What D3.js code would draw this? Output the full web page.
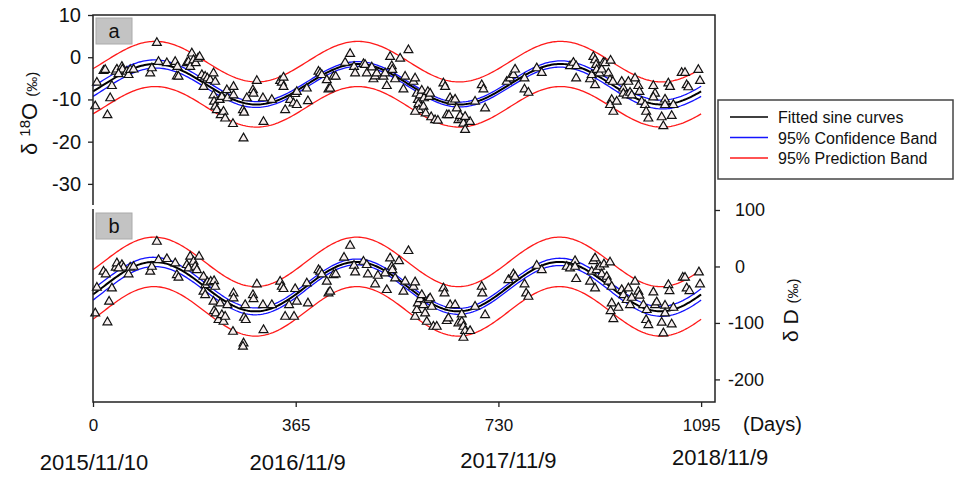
<!DOCTYPE html>
<html><head><meta charset="utf-8">
<script src="https://cdn.jsdelivr.net/npm/d3@7/dist/d3.min.js"></script>
<style>body{margin:0;background:#fff}svg{display:block;font-family:"Liberation Sans",Arial,sans-serif}</style>
</head><body><svg id="c" width="954" height="477"></svg>
<script>
// ---- data ----
const dayO18 = [115,4,7,19,22,26,31,34,41,43,52,53,46,61,64,67,73,103,106,118,133,148,151,154,152,169,172,175,178,181,185,189,192,196,199,202,206,211,217,220,217,218,220,223,228,230,232,235,238,241,242,252,253,253,271,270,272,277,288,289,295,307,306,322,337,340,343,343,346,355,361,364,367,367,387,385,406,409,412,421,424,427,433,437,454,463,470,472,487,490,493,505,508,511,502,523,526,529,535,538,539,544,553,568,559,562,577,580,583,585,586,587,589,592,595,596,599,603,605,607,580,609,616,621,631,634,637,641,643,646,652,655,658,664,661,667,670,679,670,688,700,703,706,745,751,757,760,777,777,784,799,808,859,865,870,870,895,898,901,904,906,907,912,916,919,922,904,928,931,936,932,934,931,937,943,952,955,955,964,961,967,970,976,982,984,988,994,996,1000,1009,1012,1009,1024,1027,1030,1030,1036,1039,1042,1045,1060,1066,1069,1072,1090,1093];
const valO18 = [3.4,-11.6,-6.0,-3.2,-3.0,-13.7,-9.7,-6.8,-3.4,-2.9,-2.25,-2.9,-4.0,-3.4,-4.2,-3.0,-2.9,-3.8,-2.6,-1.1,-1.4,-1.1,-4.5,-4.6,-2.25,-1.4,-1.1,-2.25,0.9,-0.7,-1.4,-0.3,0.1,-4.2,-7.0,-4.6,-5.0,-5.4,-3.8,-5.8,-9.0,-10.5,-11.7,-12.5,-10.1,-13.7,-9.4,-12.9,-14.5,-7.8,-9.7,-15.8,-7.0,-9.0,-19.2,-12.5,-13.1,-9.7,-7.8,-8.6,-5.6,-15.3,-9.7,-10.1,-5.6,-6.0,-4.8,-7.0,-12.5,-10.1,-10.9,-8.7,-8.2,-11.3,-10.4,-7.4,-3.4,-3.8,-4.2,-5.4,-7.6,-7.4,-4.6,-4.6,-1.3,0.8,-2.25,-3.8,-1.6,-1.8,-3.8,-5.2,-4.5,-3.8,-2.4,-4.6,-3.8,-6.8,0.1,-2.1,-3.0,-5.2,-0.3,1.7,-7.6,-4.6,-5.8,-5.0,-8.6,-10.1,-11.1,-12.5,-9.0,-7.9,-11.7,-9.7,-13.3,-8.2,-9.4,-8.6,-12.9,-14.2,-14.9,-15.0,-6.2,-7.0,-13.7,-13.7,-9.7,-10.5,-10.0,-12.1,-14.9,-14.5,-13.9,-15.7,-17.2,-15.3,-14.1,-10.5,-6.6,-7.6,-12.1,-5.8,-5.0,-4.2,-2.9,-5.0,-7.6,-8.4,-2.6,-3.7,-2.1,-1.3,-2.1,-5.0,-5.2,-4.2,0.1,-0.7,-1.8,-3.0,-3.8,-2.9,-1.3,-1.4,-6.6,-3.8,-5.4,-5.8,-0.8,-10.1,-11.3,-12.9,-10.5,-5.8,-7.4,-8.6,-5.8,-9.0,-8.4,-9.0,-5.0,-6.8,-8.2,-10.5,-11.3,-12.9,-14.5,-6.8,-8.6,-9.5,-14.2,-16.3,-10.0,-11.3,-6.2,-7.0,-13.9,-11.3,-3.7,-3.7,-6.6,-7.1,-3.0,-5.6];
const dayD = [115,4,7,19,23,26,29,34,41,43,52,55,46,64,67,73,103,106,118,133,148,151,154,169,172,175,181,184,187,191,199,202,206,212,218,220,199,202,217,218,221,226,229,232,235,238,242,253,253,252,271,270,274,272,275,288,289,295,307,306,322,337,340,343,346,353,362,364,367,387,385,406,409,412,421,424,427,433,437,452,463,470,472,487,493,495,508,513,529,526,535,538,539,544,551,568,559,562,577,580,580,583,585,589,592,595,598,601,604,607,610,613,619,631,633,637,640,643,652,658,664,667,670,679,664,667,688,700,701,706,748,757,760,777,780,784,799,808,853,859,868,868,870,895,898,901,904,907,913,916,920,931,904,925,928,934,934,932,937,946,952,955,964,961,967,970,976,982,984,991,997,996,1000,1009,1012,1015,1024,1027,1030,1030,1036,1038,1042,1045,1062,1066,1069,1074,1091,1093];
const valD = [43.9,-82.9,-37.5,-9.2,-13.8,-98.8,-62.3,-38.6,-2.1,5.7,2.7,-2.1,-3.2,-13.8,-2.1,-0.4,-9.2,-0.4,11.5,13.3,5.7,-15.1,-19.8,2.7,-3.2,17.4,8.5,-0.4,-6.2,17.4,-18.1,-32.8,-28.0,-26.9,-25.7,-35.8,-44.6,-50.5,-62.3,-78.8,-82.9,-94.7,-65.2,-85.9,-97.8,-88.9,-68.2,-47.5,-56.3,-115.5,-136,-142,-68.2,-90.7,-94.7,-50.5,-57.6,-31.5,-112.5,-68.2,-68.2,-26.9,-35.8,-39.8,-88.9,-68.2,-88.9,-39.8,-62.3,-65.2,-29.8,-6.2,-9.2,-13.8,-26.9,-47.5,-44.6,-15.1,-13.8,15.6,36.8,1.4,-10.3,8.5,2.7,-13.8,-31.5,-16.3,-41.6,-12.0,14.5,-0.4,-6.2,-20.9,9.7,27.5,-44.6,-26.9,-35.8,-28.0,-88.9,-77.0,-65.2,-57.6,-50.5,-68.2,-82.9,-97.8,-59.3,-56.3,-71.2,-106.6,-106.6,-38.6,-47.5,-96.5,-91.7,-68.2,-68.2,-100.6,-97.8,-106.6,-114.2,-114.2,-84.7,-126.1,-71.2,-35.8,-47.5,-85.9,-23.9,-13.8,-18.1,-31.5,-47.5,-53.5,1.4,-6.2,-0.4,-3.2,9.7,-0.4,-22.1,-26.9,-9.2,9.7,14.5,-6.2,-0.4,-13.8,3.9,7.4,-38.6,-18.1,-26.9,-35.8,-65.2,-78.8,-93.0,-73.0,-41.6,-50.5,-38.6,-59.3,-68.2,-55.3,-26.9,-44.6,-51.7,-68.2,-77.0,-94.7,-103.6,-45.7,-68.2,-63.4,-99.5,-118.3,-69.4,-82.9,-32.8,-43.4,-102.4,-73.0,-19.8,-19.8,-38.6,-43.4,-10.3,-31.5];
// fitted sine model parameters: [mean, amplitude, day of maximum, period]
const fitO18 = [-6.4, 4.8, 112, 365];
const fitD = [-35.7, 43.8, 110, 365];
// band half-widths: [confidence at centre, confidence at ends, prediction]
const bandO18 = [0.55, 1.2, 5.35];
const bandD = [5, 10, 43.8];
const xTicks = [0, 365, 730, 1095];
const dateLabels = ["2015/11/10", "2016/11/9", "2017/11/9", "2018/11/9"];
const yTicksO18 = [10, 0, -10, -20, -30];
const yTicksD = [100, 0, -100, -200];
const legendLabels = ["Fitted sine curves", "95% Confidence Band", "95% Prediction Band"];

// ---- drawing ----
const svg = d3.select("#c");
const x = d3.scaleLinear().domain([0, 1120]).range([93, 715]);
const yT = d3.scaleLinear().domain([-35, 10]).range([205, 15]);
const yB = d3.scaleLinear().domain([-240, 100]).range([402, 210]);
const AX = "#222";
const FONT = "Liberation Sans, Arial, sans-serif";

function curves(y, fit, band, maxDay) {
  const days = d3.range(0, maxDay + 1, 3);
  const mid = maxDay / 2;
  const f = d => fit[0] + fit[1] * Math.cos(2 * Math.PI * (d - fit[2]) / fit[3]);
  const c = d => band[0] + (band[1] - band[0]) * Math.pow((d - mid) / mid, 2);
  const line = acc => d3.line().x(d => x(d)).y(d => y(acc(d)))(days);
  const g = svg.append("g").attr("fill", "none");
  g.append("path").attr("d", line(d => f(d) + band[2])).attr("stroke", "#ff1a1a").attr("stroke-width", 1.3);
  g.append("path").attr("d", line(d => f(d) - band[2])).attr("stroke", "#ff1a1a").attr("stroke-width", 1.3);
  g.append("path").attr("d", line(d => f(d) + c(d))).attr("stroke", "#1414ff").attr("stroke-width", 1.3);
  g.append("path").attr("d", line(d => f(d) - c(d))).attr("stroke", "#1414ff").attr("stroke-width", 1.3);
  g.append("path").attr("d", line(f)).attr("stroke", "#000").attr("stroke-width", 2);
}
function points(y, days, vals) {
  const n = Math.min(days.length, vals.length);
  const sym = d3.symbol().type(d3.symbolTriangle).size(34);
  svg.append("g").selectAll("path").data(d3.range(n)).join("path")
    .attr("d", sym).attr("transform", i => `translate(${x(days[i])},${y(vals[i])})`)
    .attr("fill", "#f7efef").attr("stroke", "#111").attr("stroke-width", 1.2);
}

curves(yT, fitO18, bandO18, 1095);
points(yT, dayO18, valO18);
curves(yB, fitD, bandD, 1095);
points(yB, dayD, valD);

// frames
const fr = svg.append("g").attr("stroke", AX).attr("stroke-width", 1.5).attr("fill", "none");
fr.append("path").attr("d", `M${x(0)},${yT(-35)}V${yT(10)}H${x(1120)}V${yT(-35)}`);
fr.append("path").attr("d", `M${x(0)},${yB(100)-1}V${yB(-240)}H${x(1120)}V${yB(100)-5}`);

// top-left axis
const gl = svg.append("g").attr("transform", `translate(${x(0)},0)`)
  .call(d3.axisLeft(yT).tickValues(yTicksO18).tickSize(5).tickPadding(7));
gl.select(".domain").remove();
gl.selectAll("line").attr("stroke", AX).attr("stroke-width", 1.3);
gl.selectAll("text").attr("font-size", 20).attr("fill", "#111").attr("font-family", FONT)
  .text(d => d < 0 ? "-" + Math.abs(d) : d);

// bottom-right axis
const gr = svg.append("g").attr("transform", `translate(${x(1120)},0)`)
  .call(d3.axisRight(yB).tickValues(yTicksD).tickSize(5).tickPadding(15));
gr.select(".domain").remove();
gr.selectAll("line").attr("stroke", AX).attr("stroke-width", 1.3);
gr.selectAll("text").attr("font-size", 18).attr("fill", "#111").attr("font-family", FONT)
  .attr("dx", d => d < 0 ? -7 : 0).text(d => d < 0 ? "-" + Math.abs(d) : d);

// bottom axis
const gb = svg.append("g").attr("transform", `translate(0,${yB(-240)})`)
  .call(d3.axisBottom(x).tickValues(xTicks).tickSize(5).tickPadding(12).tickFormat(d3.format("d")));
gb.select(".domain").remove();
gb.selectAll("line").attr("stroke", AX).attr("stroke-width", 1.3);
gb.selectAll("text").attr("font-size", 17).attr("fill", "#111").attr("font-family", FONT);

svg.append("text").attr("x", 743).attr("y", 431).attr("font-size", 20).attr("fill", "#111").text("(Days)");

const dateDx = [1, 2, 10, 19];
const dateDy = [470, 470, 468, 465];
svg.append("g").selectAll("text").data(dateLabels).join("text")
  .attr("x", (d, i) => x(xTicks[i]) + dateDx[i]).attr("y", (d, i) => dateDy[i])
  .attr("text-anchor", "middle").attr("font-size", 22).attr("fill", "#111").text(d => d);

// panel tags
[["a", yT(10) + 3], ["b", yB(100) + 3]].forEach(([t, yy]) => {
  svg.append("rect").attr("x", 96).attr("y", yy).attr("width", 36).attr("height", 26)
    .attr("fill", "#c3c3c3").attr("stroke", "#aaa");
  svg.append("text").attr("x", 114).attr("y", yy + 20).attr("text-anchor", "middle")
    .attr("font-size", 20).attr("fill", "#111").text(t);
});

// y labels
const lt = svg.append("text").attr("transform", "translate(37,155) rotate(-90)").attr("fill", "#111");
lt.append("tspan").attr("font-size", 22).text("δ ");
lt.append("tspan").attr("font-size", 15).attr("dy", -7).text("18");
lt.append("tspan").attr("font-size", 22).attr("dy", 7).text("O ");
lt.append("tspan").attr("font-size", 15).text("(‰)");
const lb = svg.append("text").attr("transform", "translate(798,342) rotate(-90)").attr("fill", "#111");
lb.append("tspan").attr("font-size", 21).text("δ D ");
lb.append("tspan").attr("font-size", 15).text("(‰)");

// legend
const lg = svg.append("g");
lg.append("rect").attr("x", 718).attr("y", 100).attr("width", 235).attr("height", 79)
  .attr("fill", "#fff").attr("stroke", "#444").attr("stroke-width", 1.5);
const lcol = ["#000", "#1414ff", "#ff1a1a"];
legendLabels.forEach((t, i) => {
  const yy = 117 + i * 20.5;
  lg.append("line").attr("x1", 730).attr("x2", 768).attr("y1", yy).attr("y2", yy)
    .attr("stroke", lcol[i]).attr("stroke-width", i === 0 ? 1.6 : 1.3);
  lg.append("text").attr("x", 778).attr("y", yy + 6).attr("font-size", 16).attr("fill", "#111").text(t);
});
</script></body></html>
